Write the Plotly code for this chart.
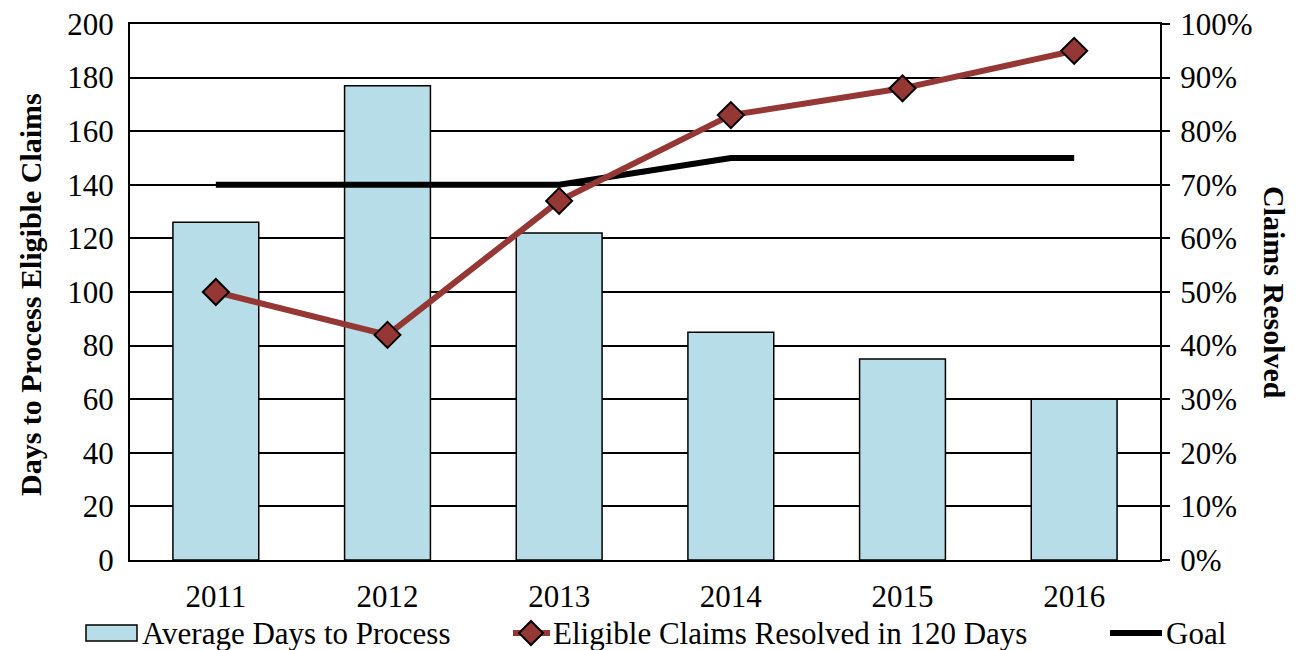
import plotly.graph_objects as go

years = ["2011", "2012", "2013", "2014", "2015", "2016"]
avg_days = [126, 177, 122, 85, 75, 60]
resolved_pct = [50, 42, 67, 83, 88, 95]
goal_pct = [70, 70, 70, 75, 75, 75]
left_ticks = [0, 20, 40, 60, 80, 100, 120, 140, 160, 180, 200]
right_ticks = [0, 10, 20, 30, 40, 50, 60, 70, 80, 90, 100]
right_labels = [f"{v}%" for v in right_ticks]

FONT = "Liberation Serif"
BAR_FILL = "#B7DEE8"
RED = "#953735"
W, H = 1302, 650
ML, MR, MT, MB = 130, 142, 24, 90
FS = 31       # tick and legend text
FS_TITLE = 30  # bold axis titles

fig = go.Figure()
fig.add_trace(go.Bar(
    x=years, y=avg_days, name="Average Days to Process",
    marker=dict(color=BAR_FILL, line=dict(color="black", width=1.5)),
    width=0.5, yaxis="y",
))
fig.add_trace(go.Scatter(
    x=years, y=goal_pct, name="Goal", mode="lines",
    line=dict(color="black", width=6), yaxis="y2",
))
fig.add_trace(go.Scatter(
    x=years, y=resolved_pct, name="Eligible Claims Resolved in 120 Days",
    mode="lines+markers", line=dict(color=RED, width=6),
    marker=dict(symbol="diamond", size=20, color=RED,
                line=dict(color="black", width=2)),
    yaxis="y2",
))

pw = W - ML - MR
ph = H - MT - MB

def px(x):
    return (x - ML) / pw

def py(y):
    return (H - MB - y) / ph

# Custom legend row under the x axis
shapes = []
annotations = []
ly = 633
legend_font = dict(family=FONT, size=FS, color="black")
title_font = dict(family=FONT, size=FS_TITLE, color="black")
shapes.append(dict(type="rect", xref="paper", yref="paper",
                   x0=px(86), x1=px(137), y0=py(ly - 8), y1=py(ly + 8),
                   fillcolor=BAR_FILL, line=dict(color="black", width=1.5)))
annotations.append(dict(xref="paper", yref="paper", x=px(140), y=py(ly),
                        text="Average Days to Process", showarrow=False,
                        xanchor="left", yanchor="middle", font=legend_font))
shapes.append(dict(type="line", xref="paper", yref="paper",
                   x0=px(513), x1=px(550), y0=py(ly), y1=py(ly),
                   line=dict(color=RED, width=6)))
# legend diamond
cx, cy, r = 531, ly, 12
diamond = (f"M {px(cx)} {py(cy - r)} L {px(cx + r)} {py(cy)} "
           f"L {px(cx)} {py(cy + r)} L {px(cx - r)} {py(cy)} Z")
shapes.append(dict(type="path", xref="paper", yref="paper", path=diamond,
                   fillcolor=RED, line=dict(color="black", width=2)))
annotations.append(dict(xref="paper", yref="paper", x=px(551), y=py(ly),
                        text="Eligible Claims Resolved in 120 Days", showarrow=False,
                        xanchor="left", yanchor="middle", font=legend_font))
shapes.append(dict(type="line", xref="paper", yref="paper",
                   x0=px(1110), x1=px(1162), y0=py(ly), y1=py(ly),
                   line=dict(color="black", width=6)))
annotations.append(dict(xref="paper", yref="paper", x=px(1164), y=py(ly),
                        text="Goal", showarrow=False,
                        xanchor="left", yanchor="middle", font=legend_font))

# Axis titles
annotations.append(dict(xref="paper", yref="paper", x=px(30), y=py(295),
                        text="<b>Days to Process Eligible Claims</b>", showarrow=False,
                        textangle=-90, xanchor="center", yanchor="middle",
                        font=title_font))
annotations.append(dict(xref="paper", yref="paper", x=px(1275), y=py(292),
                        text="<b>Claims Resolved</b>", showarrow=False,
                        textangle=90, xanchor="center", yanchor="middle",
                        font=title_font))

fig.update_layout(
    width=W, height=H,
    margin=dict(l=ML, r=MR, t=MT, b=MB, autoexpand=False),
    paper_bgcolor="white", plot_bgcolor="white",
    font=dict(family=FONT, size=FS, color="black"),
    showlegend=False,
    xaxis=dict(showgrid=False, showline=True, linecolor="black", linewidth=2,
               mirror=True, ticks="", ticklabelstandoff=8, automargin=False,
               tickfont=dict(family=FONT, size=FS)),
    yaxis=dict(range=[0, 200], tickvals=left_ticks, showgrid=True,
               gridcolor="black", gridwidth=1.5, showline=True,
               linecolor="black", linewidth=2, ticks="", zeroline=False,
               automargin=False, ticklabelstandoff=8,
               tickfont=dict(family=FONT, size=FS)),
    yaxis2=dict(range=[0, 100], tickvals=right_ticks, ticktext=right_labels,
                overlaying="y", side="right", showgrid=False, showline=True,
                linecolor="black", linewidth=2, ticks="outside", ticklen=8,
                tickwidth=1.5, tickcolor="black", zeroline=False,
                automargin=False, ticklabelstandoff=4,
                tickfont=dict(family=FONT, size=FS)),
    shapes=shapes,
    annotations=annotations,
)

fig.write_html("out.html")
